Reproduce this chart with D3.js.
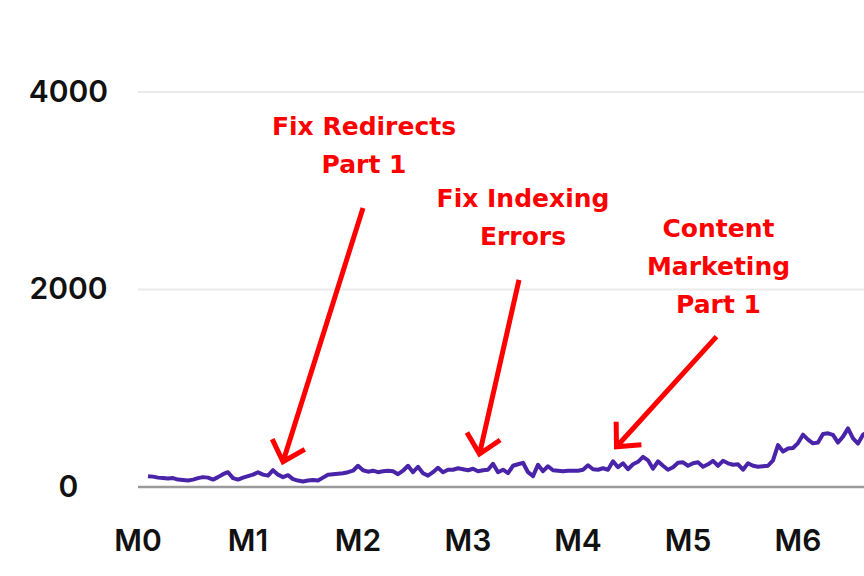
<!DOCTYPE html>
<html>
<head>
<meta charset="utf-8">
<script src="https://cdn.jsdelivr.net/npm/d3@7"></script>
<style>
  html, body { margin: 0; padding: 0; background: #ffffff; overflow: hidden; }
  svg { display: block; }
</style>
</head>
<body>
<svg id="chart" width="864" height="576"></svg>
<script>
// ---- data ----
const monthLabels = ["M0", "M1", "M2", "M3", "M4", "M5", "M6"];
const pointsPerMonth = 22;          // sample points per month
const firstPointIndex = 2;          // series starts shortly after M0
const yTicks = [0, 2000, 4000];
const trafficValues = [
  110, 105, 95, 90, 85, 90, 75, 70, 65, 75,
  90, 100, 95, 75, 100, 130, 150, 90, 75, 95,
  110, 125, 150, 125, 115, 170, 125, 100, 120, 80,
  65, 55, 65, 70, 65, 95, 125, 130, 135, 140,
  150, 165, 215, 170, 155, 165, 150, 160, 165, 160,
  130, 165, 215, 150, 205, 140, 115, 150, 195, 150,
  175, 175, 190, 180, 170, 185, 160, 170, 175, 235,
  150, 175, 140, 215, 230, 245, 150, 110, 225, 160,
  210, 170, 165, 160, 165, 165, 165, 175, 220, 180,
  175, 190, 175, 260, 200, 240, 180, 230, 255, 305,
  270, 185, 260, 215, 175, 200, 245, 250, 215, 240,
  250, 205, 230, 265, 215, 265, 240, 225, 230, 175,
  240, 215, 205, 210, 215, 270, 425, 360, 390, 395,
  445, 530, 480, 442, 450, 537, 544, 527, 450, 510,
  594, 493, 440, 530, 560
];
const annotationLabels = [
  ["Fix Redirects", "Part 1"],
  ["Fix Indexing", "Errors"],
  ["Content", "Marketing", "Part 1"]
];
// where each annotation's text sits and where its arrow points (data units)
const annotationTextIndex = [45.2, 77, 116.1];
const annotationTextTop = [3566, 2839, 2536];
const arrowFromIndex = [45, 76.2, 115.7];
const arrowFromValue = [2826, 2097, 1523];
const arrowToIndex = [29, 68.3, 95.7];
const arrowToValue = [256, 334, 408];

// ---- drawing ----
const svg = d3.select("#chart");
const x = d3.scaleLinear()
  .domain([0, (monthLabels.length - 1) * pointsPerMonth])
  .range([138, 798]);
const y = d3.scaleLinear().domain([0, 4000]).range([487, 92]);

const tickFont = "Inter, 'Open Sans', sans-serif";
const noteFont = "'DejaVu Sans', sans-serif";

// gridlines
svg.append("g").selectAll("line")
  .data(yTicks.filter(d => d !== 0))
  .join("line")
  .attr("x1", x(0)).attr("x2", 864)
  .attr("y1", d => y(d)).attr("y2", d => y(d))
  .attr("stroke", "#ebebeb").attr("stroke-width", 2);

// y labels
svg.append("g").selectAll("text")
  .data(yTicks)
  .join("text")
  .attr("x", 68.5)
  .attr("y", d => y(d) - 1)
  .attr("dy", "0.35em")
  .attr("text-anchor", "middle")
  .attr("font-family", tickFont)
  .attr("font-weight", 600)
  .attr("font-size", 30)
  .attr("fill", "#111")
  .text(d => d);

// x labels
svg.append("g").selectAll("text")
  .data(monthLabels)
  .join("text")
  .attr("x", (d, i) => x(i * pointsPerMonth))
  .attr("y", 540.5)
  .attr("dy", "0.35em")
  .attr("text-anchor", "middle")
  .attr("font-family", tickFont)
  .attr("font-weight", 600)
  .attr("font-size", 30)
  .attr("fill", "#111")
  .text(d => d);

// baseline
svg.append("line")
  .attr("x1", x(0)).attr("x2", 864)
  .attr("y1", y(0)).attr("y2", y(0))
  .attr("stroke", "#9a9a9a").attr("stroke-width", 2.5);

// traffic line
const line = d3.line()
  .x((d, i) => x(firstPointIndex + i))
  .y(d => y(d));
svg.append("path")
  .datum(trafficValues)
  .attr("d", line)
  .attr("fill", "none")
  .attr("stroke", "#4a24a8")
  .attr("stroke-width", 4)
  .attr("stroke-linejoin", "round");

// annotations
const red = "#ff0000";
annotationLabels.forEach((lines, k) => {
  const g = svg.append("g");
  g.selectAll("text")
    .data(lines)
    .join("text")
    .attr("x", x(annotationTextIndex[k]))
    .attr("y", (d, j) => y(annotationTextTop[k]) + j * 38.3)
    .attr("text-anchor", "middle")
    .attr("font-family", noteFont)
    .attr("font-weight", 700)
    .attr("font-size", 25)
    .attr("fill", red)
    .text(d => d);

  const x0 = x(arrowFromIndex[k]), y0 = y(arrowFromValue[k]);
  const x1 = x(arrowToIndex[k]), y1 = y(arrowToValue[k]);
  const ang = Math.atan2(y0 - y1, x0 - x1);
  const headLen = 25, spread = 43 * Math.PI / 180;
  const a1 = [x1 + headLen * Math.cos(ang - spread), y1 + headLen * Math.sin(ang - spread)];
  const a2 = [x1 + headLen * Math.cos(ang + spread), y1 + headLen * Math.sin(ang + spread)];
  const p = d3.path();
  p.moveTo(x0, y0); p.lineTo(x1, y1);
  p.moveTo(a1[0], a1[1]); p.lineTo(x1, y1); p.lineTo(a2[0], a2[1]);
  g.append("path")
    .attr("d", p.toString())
    .attr("fill", "none")
    .attr("stroke", red)
    .attr("stroke-width", 5)
    .attr("stroke-linecap", "butt")
    .attr("stroke-linejoin", "miter");
});
</script>
</body>
</html>
